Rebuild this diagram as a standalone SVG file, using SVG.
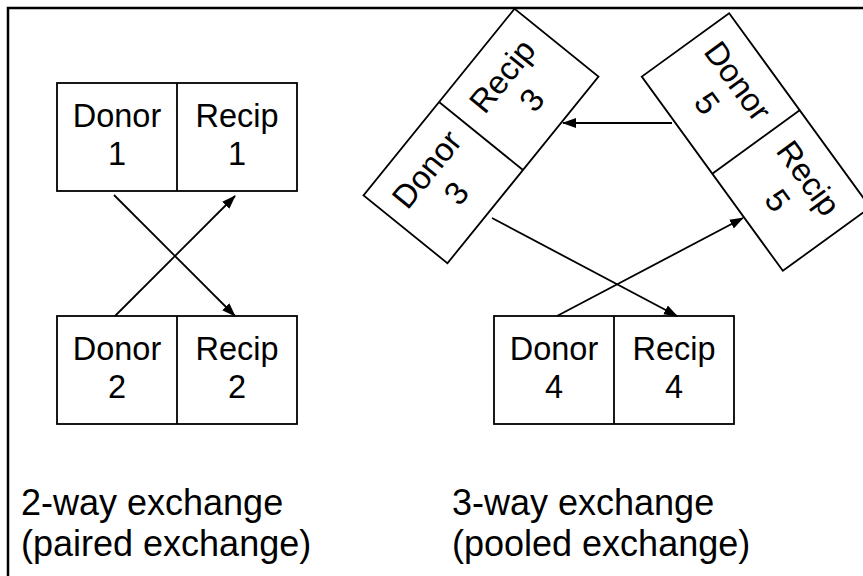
<svg xmlns="http://www.w3.org/2000/svg" width="863" height="576" viewBox="0 0 863 576">
<style>
.box{fill:#fff;stroke:#000;stroke-width:1.8}
.div{stroke:#000;stroke-width:1.8}
.t{font-family:"Liberation Sans",Arial,sans-serif;font-size:32.5px;fill:#000;text-anchor:middle}
.cap{font-family:"Liberation Sans",Arial,sans-serif;font-size:36px;fill:#000}
.con{stroke:#000;stroke-width:1.8;fill:none;marker-end:url(#ah)}
</style>
<defs>
<marker id="ah" markerUnits="userSpaceOnUse" markerWidth="14" markerHeight="10" refX="13" refY="5" orient="auto">
<path d="M0,0 L14,5 L0,10 Z" fill="#000"/>
</marker>
</defs>
<rect x="8" y="8" width="880" height="600" fill="none" stroke="#000" stroke-width="2.5"/>
<g id="pair1">
<rect class="box" x="57" y="83" width="240" height="108"/>
<line class="div" x1="177" y1="83" x2="177" y2="191"/>
<text class="t" x="117" y="127">Donor</text><text class="t" x="117" y="165">1</text>
<text class="t" x="237" y="127">Recip</text><text class="t" x="237" y="165">1</text>
</g>
<g id="pair2">
<rect class="box" x="57" y="316" width="240" height="108"/>
<line class="div" x1="177" y1="316" x2="177" y2="424"/>
<text class="t" x="117" y="360">Donor</text><text class="t" x="117" y="398">2</text>
<text class="t" x="237" y="360">Recip</text><text class="t" x="237" y="398">2</text>
</g>
<g id="pair4">
<rect class="box" x="494" y="316" width="240" height="108"/>
<line class="div" x1="614" y1="316" x2="614" y2="424"/>
<text class="t" x="554" y="360">Donor</text><text class="t" x="554" y="398">4</text>
<text class="t" x="674" y="360">Recip</text><text class="t" x="674" y="398">4</text>
</g>
<g id="pair3" transform="translate(481,136) rotate(-51)">
<rect class="box" x="-120" y="-54" width="240" height="108"/>
<line class="div" x1="0" y1="-54" x2="0" y2="54"/>
<text class="t" x="-60" y="-10">Donor</text><text class="t" x="-60" y="28">3</text>
<text class="t" x="60" y="-10">Recip</text><text class="t" x="60" y="28">3</text>
</g>
<g id="pair5" transform="translate(756,142) rotate(54)">
<rect class="box" x="-120" y="-54" width="240" height="108"/>
<line class="div" x1="0" y1="-54" x2="0" y2="54"/>
<text class="t" x="-60" y="-10">Donor</text><text class="t" x="-60" y="28">5</text>
<text class="t" x="60" y="-10">Recip</text><text class="t" x="60" y="28">5</text>
</g>
<g id="connectors">
<line class="con" x1="114" y1="195" x2="235" y2="316"/>
<line class="con" x1="115" y1="316" x2="235" y2="196"/>
<line class="con" x1="672" y1="123" x2="563" y2="123"/>
<line class="con" x1="492" y1="218" x2="677" y2="316"/>
<line class="con" x1="557" y1="316" x2="743" y2="218"/>
</g>
<g id="captions">
<text class="cap" x="21" y="515">2-way exchange</text>
<text class="cap" x="21" y="556">(paired exchange)</text>
<text class="cap" x="452" y="515">3-way exchange</text>
<text class="cap" x="452" y="556">(pooled exchange)</text>
</g>
</svg>
